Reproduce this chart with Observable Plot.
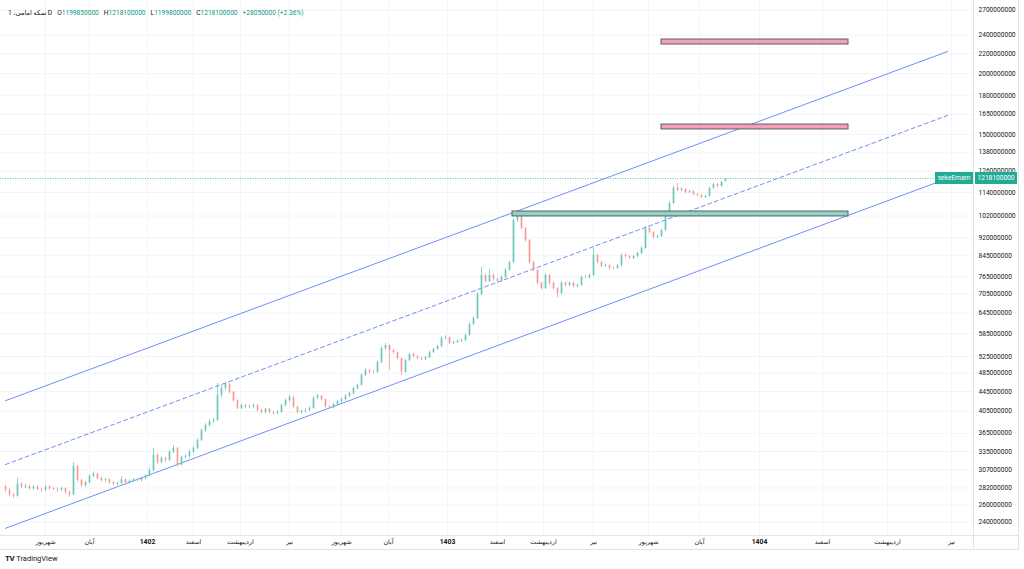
<!DOCTYPE html>
<html><head><meta charset="utf-8">
<script src="https://cdn.jsdelivr.net/npm/d3@7"></script>
<script src="https://cdn.jsdelivr.net/npm/@observablehq/plot@0.6"></script>
<style>
body{margin:0;background:#fff;font-family:Roboto,"DejaVu Sans",sans-serif;}
#wrap{position:relative;width:1024px;height:569px;overflow:hidden;background:#fff;}
#chart{position:absolute;left:0;top:0;}
.sep{position:absolute;background:#e0e3eb;}
#hdr{position:absolute;left:8px;top:8px;font-size:6.6px;line-height:10px;color:#131722;white-space:nowrap;}
#hdr .v{color:#089981;margin-right:5px;}
#hdr .t{margin-right:5px;}
.tag{position:absolute;height:12px;line-height:12px;font-size:6.6px;color:#fff;background:#22ab94;text-align:center;}
#tv{position:absolute;left:5px;top:554px;font-size:7.5px;color:#131722;}
#tv b{font-size:8px;letter-spacing:-0.5px;margin-right:2px;}
</style></head><body>
<div id="wrap">
<div id="chart"></div>
<div class="sep" style="left:973px;top:0;width:1px;height:549px"></div>
<div class="sep" style="left:1018px;top:0;width:1px;height:550px"></div>
<div class="sep" style="left:0;top:535px;width:1018px;height:1px"></div>
<div class="sep" style="left:0;top:549px;width:1019px;height:1px"></div>
<div id="hdr"><span class="t">1 <bdi>سکه امامی،</bdi>&nbsp;D</span>O<span class="v">1199850000</span>H<span class="v">1218100000</span>L<span class="v">1199800000</span>C<span class="v">1218100000</span><span class="v">+28050000 (+2.36%)</span></div>
<div id="tagName" class="tag" style="width:38px">sekeEmam</div>
<div id="tagPrice" class="tag" style="width:42px">1218100000</div>
<div id="tv"><b>TV</b>TradingView</div>
</div>
<script>
// ---- data (prices in millions of rials) ----
const openM = [283,279,273,271,287,283,284,281,283,280, 279,283,281,280,279,281,276,273,312,292,
 285,289,298,301,295,292,293,289,287,288, 293,289,291,293,292,295,298,306,329,318,
 324,321,334,340,314,326,327,334,340,353, 370,379,386,388,437,451,460,443,426,411,
 416,413,414,416,407,403,409,403,401,403, 416,426,433,413,403,405,407,411,431,435,
 428,414,412,418,424,428,435,441,451,458, 480,491,487,487,510,545,553,540,535,520,
 487,515,530,525,520,518,522,535,543,550, 572,574,558,561,564,566,580,611,628,704,
 770,749,770,756,749,763,789,819,999,1027, 962,909,819,789,742,724,770,742,724,707,
 742,735,742,731,735,763,763,770,847,819, 804,807,796,796,807,847,842,835,842,855,
 875,962,944,922,926,953,1018,1082,1162,1151, 1156,1140,1145,1129,1124,1113,1119,1162,1184,1173,
 1199.85];
const highM = [286,281,275,295,289,287,286,285,285,282, 285,285,283,282,283,282,278,318,313,294,
 291,300,304,302,297,295,294,291,290,297, 294,293,295,295,297,300,309,340,331,327,
 326,337,344,341,328,330,337,343,356,373, 382,389,392,462,458,465,462,445,428,419,
 419,417,419,418,409,411,411,405,406,419, 429,437,434,415,408,410,414,434,439,437,
 429,416,421,427,431,438,444,454,461,484, 495,494,491,514,549,558,555,543,536,521,
 518,533,533,527,523,525,538,546,553,576, 579,576,564,567,570,584,615,633,710,800,
 775,790,775,760,768,795,825,1005,1037,1032, 965,912,824,792,746,776,773,746,727,748,
 747,746,745,739,767,768,775,875,850,822, 812,810,801,812,852,853,846,847,860,882,
 970,968,947,932,959,1045,1090,1172,1190,1165, 1160,1152,1150,1134,1128,1125,1168,1192,1190,1202,
 1218.1];
const lowM = [276,270,268,270,281,281,279,279,278,276, 277,279,278,276,277,274,270,272,290,283,
 283,288,296,293,290,290,287,285,285,287, 287,287,289,290,290,293,297,305,315,316,
 318,320,332,311,313,323,325,332,338,351, 367,376,383,386,432,447,440,423,408,408,
 410,410,411,404,400,400,400,398,398,401, 414,423,410,400,400,402,404,409,428,425,
 411,409,410,416,421,425,432,438,448,456, 477,484,483,485,508,541,491,531,516,480,
 485,512,522,517,515,515,520,532,540,548, 568,555,555,558,561,563,578,608,625,700,
 744,745,750,744,745,760,785,815,990,955, 902,812,783,736,718,720,736,718,694,703,
 729,730,726,727,732,758,758,767,813,799, 800,790,791,792,803,836,829,830,838,851,
 872,938,915,917,922,948,1012,1078,1144,1145, 1133,1134,1122,1118,1107,1108,1115,1158,1166,1170,
 1199.8];
const closeM = [279,273,271,287,283,284,281,283,280,279, 283,281,280,279,281,276,273,312,292,285,
 289,298,301,295,292,293,289,287,288,293, 289,291,293,292,295,298,306,329,318,324,
 321,334,340,314,326,327,334,340,353,370, 379,386,388,437,451,460,443,426,411,416,
 413,414,416,407,403,409,403,401,403,416, 426,433,413,403,405,407,411,431,435,428,
 414,412,418,424,428,435,441,451,458,480, 491,487,487,510,545,553,540,535,520,487,
 515,530,525,520,518,522,535,543,550,572, 574,558,561,564,566,580,611,628,704,770,
 749,770,756,749,763,789,819,999,1027,962, 909,819,789,742,724,770,742,724,707,742,
 735,742,731,735,763,763,770,847,819,804, 807,796,796,807,847,842,835,842,855,875,
 962,944,922,926,953,1018,1082,1162,1151,1156, 1140,1145,1129,1124,1113,1119,1162,1184,1173,1195,
 1218.1];

// channel (bar index, price in millions)
const channelBars = [0, 235.5];
const upperM = [426, 2220];
const middleM = [315, 1641];
const lowerM = [233, 1218];

// zones
const zoneKind = ["target", "target", "support"];
const zoneFrom = [164, 164, 126.75];
const zoneTo = [210.75, 210.75, 210.75];
const zoneLowM = [2295, 1536, 1018];
const zoneHighM = [2350, 1572, 1042];

// axes
const yTicks = [2700000000,2400000000,2200000000,2000000000,1800000000,1650000000,1500000000,1380000000,
 1260000000,1140000000,1020000000,920000000,845000000,765000000,705000000,645000000,585000000,525000000,
 485000000,445000000,405000000,365000000,335000000,307000000,282000000,260000000,240000000];
const tickBars = [10, 21, 35.5, 47, 58.75, 71, 84, 95.75, 110.5, 123, 134.5, 147, 160.75, 173.5, 188.5, 204.25, 220.5, 236.5];
const tickLabels = ["شهریور","آبان","1402","اسفند","اردیبهشت","تیر","شهریور","آبان","1403","اسفند","اردیبهشت","تیر","شهریور","آبان","1404","اسفند","اردیبهشت","تیر"];

const lastClose = 1218100000;

// ---- build ----
const M = 1e6;
const candles = closeM.map((c, i) => ({i, o: openM[i]*M, h: highM[i]*M, l: lowM[i]*M, c: c*M}));
const up = candles.filter(d => d.c >= d.o), down = candles.filter(d => d.c < d.o);
const chan = (arr) => channelBars.map((b, k) => ({x: b, y: arr[k]*M}));
const zones = zoneKind.map((k, i) => ({k, x1: zoneFrom[i], x2: zoneTo[i], y1: zoneLowM[i]*M, y2: zoneHighM[i]*M}));
const labelOf = new Map(tickBars.map((b, i) => [b, tickLabels[i]]));
const isYear = b => /^\d+$/.test(labelOf.get(b));

const UP = "#6cc6ba", DOWN = "#f39c95", BLUE = "#6f8ff7";
const W = 1024, H = 550, mR = 51, mB = 15;

const chart = Plot.plot({
  width: W, height: H, marginLeft: 0, marginRight: mR, marginTop: 0, marginBottom: mB,
  x: {type: "linear", domain: [-1.25, 242], label: null},
  y: {type: "log", domain: [225.2e6, 2826e6], label: null},
  style: {fontFamily: "Roboto, 'DejaVu Sans', sans-serif", fontSize: "6.6px", color: "#131722", background: "transparent", overflow: "visible"},
  marks: [
    Plot.gridY(yTicks, {stroke: "#f2f4f9", strokeOpacity: 1}),
    Plot.gridX(tickBars, {stroke: "#f2f4f9", strokeOpacity: 1}),
    Plot.axisY(yTicks, {anchor: "right", tickSize: 0, tickPadding: 5, tickFormat: d => d.toFixed(0), fontSize: 6.6}),
    Plot.axisX(tickBars.filter(b => !isYear(b)), {anchor: "bottom", tickSize: 0, tickPadding: 3.5, tickFormat: b => labelOf.get(b), fontSize: 6.4}),
    Plot.axisX(tickBars.filter(isYear), {anchor: "bottom", tickSize: 0, tickPadding: 3.5, tickFormat: b => labelOf.get(b), fontSize: 6.8, fontWeight: "bold"}),
    Plot.line(chan(upperM), {x: "x", y: "y", stroke: BLUE, strokeWidth: 1}),
    Plot.line(chan(middleM), {x: "x", y: "y", stroke: BLUE, strokeWidth: 1, strokeDasharray: "4,3"}),
    Plot.line(chan(lowerM), {x: "x", y: "y", stroke: BLUE, strokeWidth: 1}),
    Plot.ruleY([lastClose], {stroke: "#22ab94", strokeWidth: 1, strokeDasharray: "1,1.5", strokeOpacity: 0.7}),
    Plot.ruleX(up, {x: "i", y1: "l", y2: "h", stroke: UP, strokeWidth: 0.8}),
    Plot.ruleX(down, {x: "i", y1: "l", y2: "h", stroke: DOWN, strokeWidth: 0.8}),
    Plot.ruleX(up, {x: "i", y1: "o", y2: "c", stroke: UP, strokeWidth: 1.7}),
    Plot.ruleX(down, {x: "i", y1: "o", y2: "c", stroke: DOWN, strokeWidth: 1.7}),
    Plot.rect(zones, {x1: "x1", x2: "x2", y1: "y1", y2: "y2", fill: d => d.k === "target" ? "#f59fbd" : "#8fd3c5", stroke: "#5a5d66", strokeWidth: 1})
  ],
  color: {type: "identity"}
});
document.getElementById("chart").appendChild(chart);

const py = chart.scale("y").apply(lastClose);
const frameRight = W - mR;
const tn = document.getElementById("tagName"), tp = document.getElementById("tagPrice");
tn.style.top = (py - 6) + "px"; tn.style.left = (frameRight - 38) + "px";
tp.style.top = (py - 6) + "px"; tp.style.left = (frameRight + 2) + "px";
</script>
</body></html>
